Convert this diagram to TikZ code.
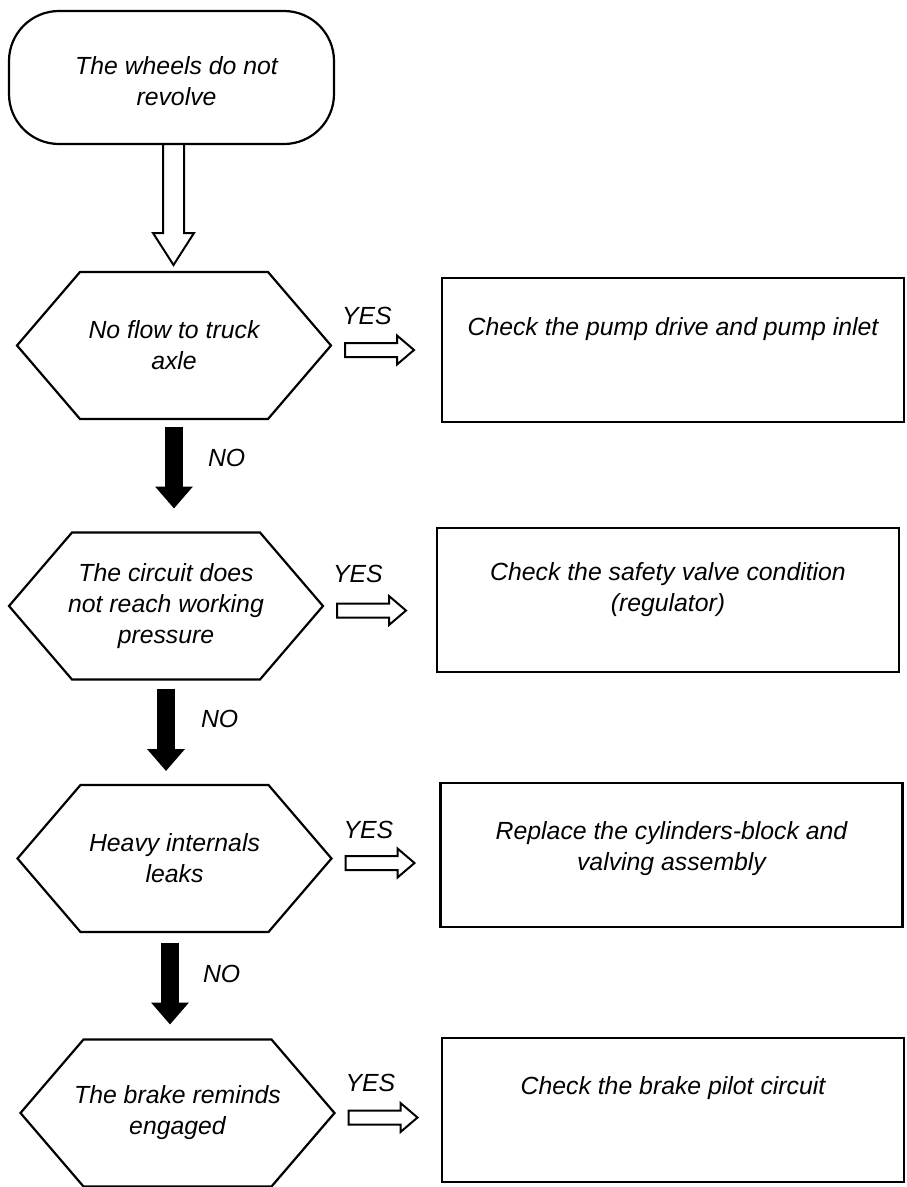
\documentclass[tikz,border=0pt]{standalone}
\usepackage{fontspec}
\setmainfont{Liberation Sans}
\usetikzlibrary{calc,arrows.meta}

\tikzset{
  basefont/.style={font=\fontsize{24.8}{31}\selectfont\itshape, inner sep=0pt, outer sep=0pt},
  terminal/.style={draw, line width=2.2pt, rounded corners=50pt, minimum width=325pt,
                   minimum height=133pt, inner sep=0pt, outer sep=0pt},
  decision/.style={basefont, align=center, minimum width=314pt, minimum height=147pt},
  hexline/.style={line width=2.2pt, line join=miter},
  actionbox/.style={draw, line width=2.2pt, minimum width=462pt, minimum height=144pt,
                    inner sep=0pt, outer sep=0pt},
  txt/.style={basefont, align=center},
  hollow/.style={draw, fill=white, line width=2pt, line join=miter},
  noarrow/.style={line width=18.5pt, -{Triangle[width=36.5pt,length=22pt]}},
  lbl/.style={basefont, anchor=west},
}

% hexagonal outline around a decision node
\newcommand{\hexoutline}[1]{%
  \draw[hexline] (#1.west) -- ($(#1.north west)+(63,0)$) -- ($(#1.north east)+(-63,0)$)
    -- (#1.east) -- ($(#1.south east)+(-63,0)$) -- ($(#1.south west)+(63,0)$) -- cycle;}

% outlined arrow pointing right, starting beside a decision node
\newcommand{\yesarrow}[1]{%
  \draw[hollow] ($(#1.east)+(14,4.5)$) ++(0,-7) -- ++(52,0) -- ++(0,-7.5) -- ++(17,14.5)
    -- ++(-17,14.5) -- ++(0,-7.5) -- ++(-52,0) -- cycle;}

\begin{document}
\begin{tikzpicture}[x=1pt, y=-1pt]
  \useasboundingbox (0,0) rectangle (906,1187);
  \fill[white] (0,0) rectangle (906,1187);

  % start
  \node[terminal] (t) at (171.5,77.5) {};
  \node[txt] (tt) at ($(t.center)+(5,4)$) {The wheels do not\\revolve};

  % decisions
  \node[decision] (h1) at (174,345.5) {No flow to truck\\axle};
  \node[decision] (h2) at (166,606) {The circuit does\\not reach working\\pressure};
  \node[decision] (h3) at (174.5,858.5) {Heavy internals\\leaks};
  \node[decision] (h4) at (177.5,1113) {The brake reminds\\engaged};
  \hexoutline{h1}
  \hexoutline{h2}
  \hexoutline{h3}
  \hexoutline{h4}

  % actions
  \node[actionbox] (b1) at (673,350) {};
  \node[actionbox] (b2) at (668,600) {};
  \node[actionbox] (b3) at (671.5,855) {};
  \node[actionbox] (b4) at (673,1110) {};
  \node[txt, anchor=north] (bt1) at ($(b1.north)+(0,40)$) {Check the pump drive and pump inlet};
  \node[txt, anchor=north] (bt2) at ($(b2.north)+(0,35)$) {Check the safety valve condition\\(regulator)};
  \node[txt, anchor=north] (bt3) at ($(b3.north)+(0,39)$) {Replace the cylinders-block and\\valving assembly};
  \node[txt, anchor=north] (bt4) at ($(b4.north)+(0,39)$) {Check the brake pilot circuit};

  % start -> first decision
  \draw[hollow] ($(t.south)+(-8.5,0)$) -- ++(0,89) -- ++(-10,0) -- ++(20.5,32)
    -- ++(20.5,-32) -- ++(-10,0) -- ++(0,-89) -- cycle;

  % NO branches
  \draw[noarrow, shorten <=8pt, shorten >=24pt] (h1.south) -- (h1.south |- h2.north);
  \draw[noarrow, shorten <=9pt, shorten >=14pt] (h2.south) -- (h2.south |- h3.north);
  \draw[noarrow, shorten <=11pt, shorten >=15pt] ($(h3.south)+(-4.5,0)$) -- ($(h3.south |- h4.north)+(-4.5,0)$);
  \node[lbl] (n1) at ($(h1.south)+(34,39)$) {NO};
  \node[lbl] (n2) at ($(h2.south)+(35,39)$) {NO};
  \node[lbl] (n3) at ($(h3.south)+(28.5,42)$) {NO};

  % YES branches
  \yesarrow{h1}
  \yesarrow{h2}
  \yesarrow{h3}
  \yesarrow{h4}
  \node[lbl] (y1) at ($(h1.east)+(11,-30)$) {YES};
  \node[lbl] (y2) at ($(h2.east)+(10,-32)$) {YES};
  \node[lbl] (y3) at ($(h3.east)+(12,-28.5)$) {YES};
  \node[lbl] (y4) at ($(h4.east)+(11,-30)$) {YES};
\end{tikzpicture}
\end{document}
